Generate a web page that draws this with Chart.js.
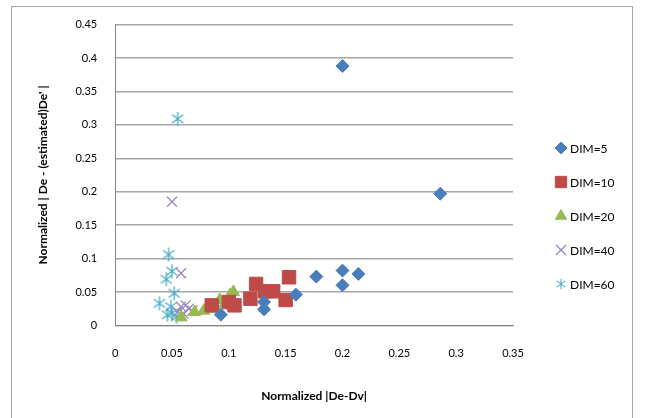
<!DOCTYPE html>
<html>
<head>
<meta charset="utf-8">
<script src="https://cdn.jsdelivr.net/npm/chart.js@4.4.1/dist/chart.umd.min.js"></script>
<style>
  html, body { margin: 0; padding: 0; background: #fff; }
  #wrap { width: 646px; height: 418px; }
</style>
</head>
<body>
<div id="wrap"><canvas id="canvas" width="646" height="418"></canvas></div>
<script>
// values (x = normalized |De-Dv|, y = normalized |De - (estimated)De'|)
const dim5X = [0.093, 0.131, 0.131, 0.159, 0.177, 0.200, 0.200, 0.214, 0.200, 0.286];
const dim5Y = [0.016, 0.024, 0.035, 0.046, 0.073, 0.082, 0.060, 0.077, 0.388, 0.197];

const dim10X = [0.085, 0.100, 0.105, 0.119, 0.124, 0.132, 0.139, 0.150, 0.153];
const dim10Y = [0.030, 0.035, 0.030, 0.040, 0.062, 0.051, 0.051, 0.038, 0.072];

const dim20X = [0.058, 0.070, 0.078, 0.083, 0.088, 0.092, 0.097, 0.101, 0.104];
const dim20Y = [0.012, 0.020, 0.022, 0.025, 0.030, 0.038, 0.033, 0.045, 0.050];

const dim40X = [0.050, 0.058, 0.055, 0.058, 0.062, 0.065, 0.068, 0.060];
const dim40Y = [0.185, 0.078, 0.020, 0.028, 0.030, 0.025, 0.022, 0.018];

const dim60X = [0.055, 0.047, 0.050, 0.045, 0.052, 0.039, 0.049, 0.046, 0.050, 0.054];
const dim60Y = [0.309, 0.106, 0.081, 0.069, 0.048, 0.033, 0.028, 0.016, 0.018, 0.013];

const seriesNames = ["DIM=5", "DIM=10", "DIM=20", "DIM=40", "DIM=60"];
const xTitle = "Normalized |De-Dv|";
const yTitle = "Normalized | De - (estimated)De' |";

function pts(xs, ys) {
  return xs.map((x, i) => ({ x: x, y: ys[i] }));
}

// excel-like asterisk marker (vertical bar + X)
function asterisk(color, r) {
  const c = document.createElement("canvas");
  const s = r * 2 + 2;
  c.width = s; c.height = s;
  const g = c.getContext("2d");
  const m = s / 2;
  g.strokeStyle = color;
  g.lineWidth = 1.3;
  g.beginPath();
  g.moveTo(m, m - r); g.lineTo(m, m + r);
  g.moveTo(m - r * 0.8, m - r * 0.6); g.lineTo(m + r * 0.8, m + r * 0.6);
  g.moveTo(m - r * 0.8, m + r * 0.6); g.lineTo(m + r * 0.8, m - r * 0.6);
  g.stroke();
  return c;
}

const fmt = v => String(+v.toFixed(2));

const frame = {
  id: "frame",
  beforeDraw(chart) {
    const ctx = chart.ctx;
    ctx.save();
    ctx.fillStyle = "#fff";
    ctx.fillRect(0, 0, chart.width, chart.height);
    ctx.strokeStyle = "#a6a6a6";
    ctx.lineWidth = 1;
    ctx.strokeRect(11.5, 6.5, 621, 420);
    ctx.restore();
  }
};

// excel style legend: small markers, wide gap to the plot
const sideLegend = {
  id: "sideLegend",
  afterDraw(chart) {
    const ctx = chart.ctx;
    ctx.save();
    ctx.font = "12px Lato";
    ctx.textBaseline = "middle";
    chart.data.datasets.forEach((ds, i) => {
      const y = 148 + i * 34;
      ctx.fillStyle = ds.backgroundColor;
      ctx.strokeStyle = ds.borderColor;
      ctx.lineWidth = ds.borderWidth;
      if (ds.pointStyle instanceof HTMLCanvasElement) {
        ctx.drawImage(ds.pointStyle, 561 - 6, y - 6, 12, 12);
      } else {
        Chart.helpers.drawPoint(ctx, { pointStyle: ds.pointStyle, radius: ds.legendRadius, borderWidth: ds.borderWidth }, 561, y);
      }
      ctx.fillStyle = "#000";
      ctx.fillText(ds.label, 570, y + 1);
    });
    ctx.restore();
  }
};

const star = asterisk("#4bacc6", 7);

new Chart("canvas", {
  type: "scatter",
  data: {
    datasets: [
      { label: seriesNames[0], data: pts(dim5X, dim5Y), pointStyle: "rectRot", pointRadius: 6.5, legendRadius: 6,
        backgroundColor: "#4a7ebb", borderColor: "#4a7ebb", borderWidth: 1 },
      { label: seriesNames[1], data: pts(dim10X, dim10Y), pointStyle: "rect", pointRadius: 9.5, legendRadius: 8,
        backgroundColor: "#be4b48", borderColor: "#be4b48", borderWidth: 1 },
      { label: seriesNames[2], data: pts(dim20X, dim20Y), pointStyle: "triangle", pointRadius: 7, legendRadius: 6.5,
        backgroundColor: "#98b954", borderColor: "#98b954", borderWidth: 1 },
      { label: seriesNames[3], data: pts(dim40X, dim40Y), pointStyle: "crossRot", pointRadius: 7, legendRadius: 7,
        backgroundColor: "#9d87be", borderColor: "#9d87be", borderWidth: 1.3 },
      { label: seriesNames[4], data: pts(dim60X, dim60Y), pointStyle: star, pointRadius: 7, legendRadius: 6,
        backgroundColor: "#4bacc6", borderColor: "#4bacc6", borderWidth: 1.3 }
    ]
  },
  options: {
    responsive: false,
    animation: false,
    layout: { padding: { left: 36, right: 133, top: 20, bottom: 11 } },
    plugins: {
      legend: { display: false },
      tooltip: { enabled: false }
    },
    scales: {
      x: {
        type: "linear",
        min: 0,
        max: 0.35,
        ticks: { stepSize: 0.05, padding: 21, color: "#000", font: { family: "Lato", size: 11 }, callback: fmt },
        grid: { display: false, drawTicks: false },
        border: { color: "#868686" },
        title: { display: true, text: xTitle, color: "#000",
                 font: { family: "Lato", size: 12, weight: "bold" }, padding: { top: 8 } }
      },
      y: {
        min: 0,
        max: 0.45,
        ticks: { stepSize: 0.05, padding: 18, color: "#000", font: { family: "Lato", size: 11 }, callback: fmt },
        grid: { color: "#a6a6a6", lineWidth: 1.5, drawTicks: false },
        border: { color: "#868686" },
        title: { display: true, text: yTitle, color: "#000",
                 font: { family: "Lato", size: 12, weight: "bold" }, padding: { top: 0, bottom: 7 } }
      }
    }
  },
  plugins: [frame, sideLegend]
});
</script>
</body>
</html>
